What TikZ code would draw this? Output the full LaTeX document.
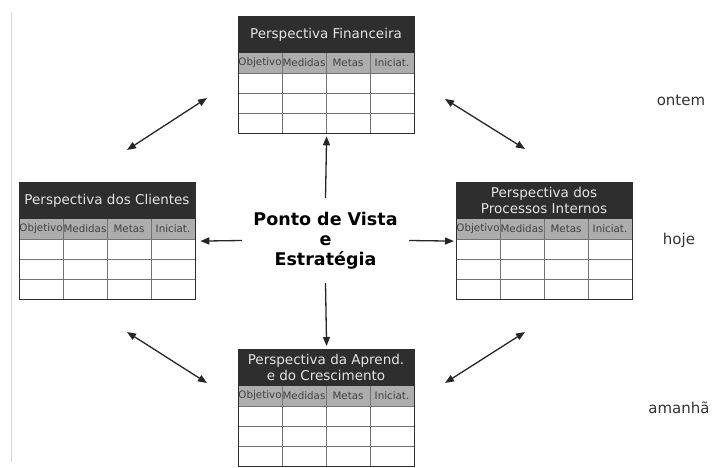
\documentclass[tikz,border=0pt]{standalone}
\usepackage{fontspec}
\setmainfont{DejaVu Sans}
\usetikzlibrary{arrows.meta}
\definecolor{darkhead}{rgb}{0.18,0.18,0.18}
\definecolor{headtext}{rgb}{0.9,0.9,0.9}
\definecolor{colgray}{rgb}{0.68,0.68,0.68}
\definecolor{coltext}{rgb}{0.25,0.25,0.25}
\definecolor{gridgray}{rgb}{0.45,0.45,0.45}

\tikzset{
  titulo/.style={headtext,align=center,inner sep=0pt,
                 font=\fontsize{13.5}{15.5}\selectfont},
  colunas/.style={coltext,inner sep=0pt,font=\fontsize{10.3}{12}\selectfont},
  grade/.style={gridgray,line width=0.9pt},
  moldura/.style={draw=darkhead,line width=1.3pt,inner sep=0pt,
                  minimum width=176pt,minimum height=117pt,anchor=north west},
  seta/.style={-{Triangle[length=9pt,width=7pt]},line width=1.3pt,black!85},
  dupla/.style={{Triangle[length=9pt,width=7pt]}-{Triangle[length=9pt,width=7pt]},
                line width=1.3pt,black!85},
  tempo/.style={black!80,font=\fontsize{15}{17}\selectfont}
}

% one perspective table: name, left, top, title
\newcommand{\tabela}[4]{%
  \fill [darkhead] (#2,#3) rectangle ++(176,37);
  \fill [colgray] (#2,#3+37) rectangle ++(176,20);
  \node [titulo] (#1-t) at (#2+88,#3+18.5) {#4};
  \foreach \t [count=\i] in {Objetivo,Medidas,Metas,Iniciat.}
    \node [colunas] (#1-c\i) at (#2+44*\i-22,#3+47) {\t};
  \foreach \k in {57,77,97}
    \draw [grade] (#2,#3+\k) -- ++(176,0);
  \foreach \i in {1,2,3}
    \draw [grade] (#2+44*\i,#3+37) -- ++(0,80);
  \node [moldura] (#1) at (#2,#3) {};
}

\begin{document}
\begin{tikzpicture}[x=1pt,y=-1pt]
\useasboundingbox (0,0) rectangle (716,468);

\draw [black!15] (11,12) -- (11,462);

\tabela{fin}{238}{16}{Perspectiva Financeira}
\tabela{cli}{19}{182}{Perspectiva dos Clientes}
\tabela{proc}{456}{182}{Perspectiva dos\\Processos Internos}
\tabela{apr}{238}{349}{Perspectiva da Aprend.\\e do Crescimento}

\node [align=center,minimum width=167pt,minimum height=85pt,
       font=\bfseries\fontsize{17.5}{20}\selectfont] (pv) at (325.5,240.5)
      {Ponto de Vista\\e\\Estratégia};

\draw [seta,shorten >=2pt] (pv.north) -- (fin.south);
\draw [seta,shorten >=3pt] (pv.south) -- (apr.north);
\draw [seta,shorten >=4pt] (pv.west) -- (cli.east);
\draw [seta,shorten >=2pt] (pv.east) -- (proc.west);

% corner arrows
\coordinate (nw1) at (207,98);
\coordinate (nw2) at (127,150);
\coordinate (ne1) at (445,99);
\coordinate (ne2) at (525,149);
\coordinate (sw1) at (127,332);
\coordinate (sw2) at (207,383);
\coordinate (se1) at (445,383);
\coordinate (se2) at (525,332);
\draw [dupla] (nw1) -- (nw2);
\draw [dupla] (ne1) -- (ne2);
\draw [dupla] (sw1) -- (sw2);
\draw [dupla] (se1) -- (se2);

% some text
\node [tempo] (ontem) at (681,100) {ontem};
\node [tempo] (hoje) at (679,240) {hoje};
\node [tempo] (amanha) at (679,408) {amanhã};

\end{tikzpicture}
\end{document}
